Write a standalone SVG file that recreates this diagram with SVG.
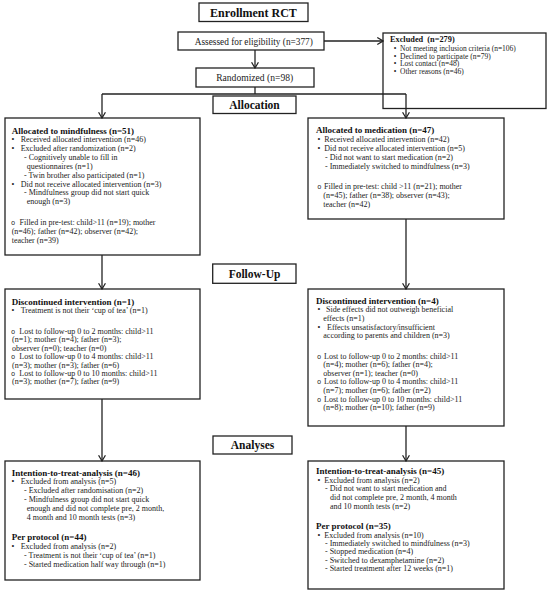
<svg xmlns="http://www.w3.org/2000/svg" width="550" height="594" viewBox="0 0 550 594">
<defs>
<style>
.box{fill:#fff;stroke:#222;stroke-width:1.3}
.t{font-family:"Liberation Serif",serif;font-size:8px;fill:#222}
.s{font-size:7.5px}
.h{font-family:"Liberation Serif",serif;font-weight:bold;font-size:9px;fill:#111}
.hb{font-family:"Liberation Serif",serif;font-weight:bold;font-size:11.5px;fill:#111;text-anchor:middle}
.c{font-family:"Liberation Serif",serif;font-size:9.3px;fill:#222;text-anchor:middle}
.bu{text-anchor:middle}
.o{font-family:"Liberation Mono",monospace;font-size:7px;fill:#222;text-anchor:middle}
.ln{fill:none;stroke:#222;stroke-width:1.3}
</style>
<marker id="ar" markerUnits="userSpaceOnUse" markerWidth="8" markerHeight="8" viewBox="0 0 6 7" refX="5.5" refY="3.5" orient="auto">
<path d="M0.5,0.5 L5.5,3.5 L0.5,6.5" fill="none" stroke="#222" stroke-width="1.1"/>
</marker>
</defs>
<rect width="550" height="594" fill="#fff"/>

<g id="enrollment">
<rect class="box" x="199" y="3" width="109" height="18.5"/>
<text class="hb" x="253.5" y="17" style="font-size:12px">Enrollment RCT</text>
</g>

<g id="assessed">
<rect class="box" x="178" y="32" width="146" height="18"/>
<text class="c" x="253.8" y="44.5">Assessed for eligibility (n=377)</text>
</g>

<g id="excluded">
<rect class="box" x="383" y="33" width="163" height="75.5"/>
<text class="h" x="390" y="42.3" style="font-size:8.3px" xml:space="preserve">Excluded  (n=279)</text>
<g class="t s">
<text class="bu" x="395" y="51.2">•</text><text x="400" y="51.2">Not meeting inclusion criteria (n=106)</text>
<text class="bu" x="395" y="58.7">•</text><text x="400" y="58.7">Declined to participate (n=79)</text>
<text class="bu" x="395" y="66.2">•</text><text x="400" y="66.2">Lost contact (n=48)</text>
<text class="bu" x="395" y="73.7">•</text><text x="400" y="73.7">Other reasons (n=46)</text>
</g>
</g>

<g id="randomized">
<rect class="box" x="196" y="68" width="118" height="19"/>
<text class="c" x="254.7" y="81.3" style="font-size:9.6px">Randomized (n=98)</text>
</g>

<g id="allocation">
<rect class="box" x="213" y="96" width="83" height="17.5"/>
<text class="hb" x="254.5" y="108.5">Allocation</text>
</g>

<g id="alloc-mindfulness">
<rect class="box" x="5" y="118" width="195" height="137"/>
<text class="h" x="11.7" y="133.5">Allocated to mindfulness (n=51)</text>
<g class="t">
<text class="bu" x="13" y="142">•</text><text x="20.7" y="142">Received allocated intervention (n=46)</text>
<text class="bu" x="13" y="150.9">•</text><text x="20.7" y="150.9">Excluded after randomization (n=2)</text>
<text x="24" y="159.8">- Cognitively unable to fill in</text>
<text x="26.7" y="168.7">questionnaires (n=1)</text>
<text x="24" y="177.6">- Twin brother also participated (n=1)</text>
<text class="bu" x="13" y="186.5">•</text><text x="20.7" y="186.5">Did not receive allocated intervention (n=3)</text>
<text x="24" y="195.4">- Mindfulness group did not start quick</text>
<text x="26.7" y="204.3">enough (n=3)</text>
<text class="o" x="13" y="225">o</text><text x="19.5" y="225">Filled in pre-test: child&gt;11 (n=19); mother</text>
<text x="11.7" y="233.9">(n=46); father (n=42); observer (n=42);</text>
<text x="11.7" y="242.8">teacher (n=39)</text>
</g>
</g>

<g id="alloc-medication">
<rect class="box" x="308" y="118" width="196" height="101"/>
<text class="h" x="316" y="133">Allocated to medication (n=47)</text>
<g class="t">
<text class="bu" x="319" y="142">•</text><text x="324.3" y="142">Received allocated intervention (n=42)</text>
<text class="bu" x="319" y="151">•</text><text x="324.3" y="151">Did not receive allocated intervention (n=5)</text>
<text x="325" y="160">- Did not want to start medication (n=2)</text>
<text x="325" y="169">- Immediately switched to mindfulness (n=3)</text>
<text class="o" x="319.3" y="188.7">o</text><text x="324" y="188.7">Filled in pre-test: child &gt;11 (n=21); mother</text>
<text x="323.3" y="197.6">(n=45); father (n=38); observer (n=43);</text>
<text x="323.3" y="206.5">teacher (n=42)</text>
</g>
</g>

<g id="followup">
<rect class="box" x="212.7" y="264" width="83.3" height="19.3"/>
<text class="hb" x="254.5" y="278">Follow-Up</text>
</g>

<g id="disc-mindfulness">
<rect class="box" x="5" y="289" width="195" height="110"/>
<text class="h" x="11.7" y="304.7">Discontinued intervention (n=1)</text>
<g class="t">
<text class="bu" x="13" y="313.4">•</text><text x="20.7" y="313.4">Treatment is not their ‘cup of tea’ (n=1)</text>
<text class="o" x="13" y="333.7">o</text><text x="19.3" y="333.7">Lost to follow-up 0 to 2 months: child&gt;11</text>
<text x="12" y="342.4">(n=1); mother (n=4); father (n=3);</text>
<text x="12" y="350.6">observer (n=0); teacher (n=0)</text>
<text class="o" x="13" y="359.4">o</text><text x="19.3" y="359.4">Lost to follow-up 0 to 4 months: child&gt;11</text>
<text x="12" y="367.7">(n=3); mother (n=3); father (n=6)</text>
<text class="o" x="13" y="376">o</text><text x="19.3" y="376">Lost to follow-up 0 to 10 months: child&gt;11</text>
<text x="12" y="384.4">(n=3); mother (n=7); father (n=9)</text>
</g>
</g>

<g id="disc-medication">
<rect class="box" x="308" y="289" width="196" height="137"/>
<text class="h" x="316" y="303.7">Discontinued intervention (n=4)</text>
<g class="t">
<text class="bu" x="319" y="312">•</text><text x="326" y="312">Side effects did not outweigh beneficial</text>
<text x="323.3" y="321">effects (n=1)</text>
<text class="bu" x="319" y="329.7">•</text><text x="327" y="329.7">Effects unsatisfactory/insufficient</text>
<text x="323.3" y="338.4">according to parents and children (n=3)</text>
<text class="o" x="319" y="358.7">o</text><text x="324" y="358.7">Lost to follow-up 0 to 2 months: child&gt;11</text>
<text x="323.3" y="367.4">(n=4); mother (n=6); father (n=4);</text>
<text x="323.3" y="376">observer (n=1); teacher (n=0)</text>
<text class="o" x="319" y="384.4">o</text><text x="324" y="384.4">Lost to follow-up 0 to 4 months: child&gt;11</text>
<text x="323.3" y="393">(n=7); mother (n=6); father (n=2)</text>
<text class="o" x="319" y="402">o</text><text x="324" y="402">Lost to follow-up 0 to 10 months: child&gt;11</text>
<text x="323.3" y="410.4">(n=8); mother (n=10); father (n=9)</text>
</g>
</g>

<g id="analyses">
<rect class="box" x="213" y="436" width="79" height="18"/>
<text class="hb" x="252.5" y="449.3">Analyses</text>
</g>

<g id="itt-mindfulness">
<rect class="box" x="5" y="461" width="195" height="119"/>
<text class="h" x="11.7" y="475.7">Intention-to-treat-analysis (n=46)</text>
<g class="t">
<text class="bu" x="13" y="484.4">•</text><text x="20.7" y="484.4">Excluded from analysis (n=5)</text>
<text x="24" y="493.2">- Excluded after randomisation (n=2)</text>
<text x="24" y="502">- Mindfulness group did not start quick</text>
<text x="26.7" y="510.9">enough and did not complete pre, 2 month,</text>
<text x="26.7" y="519.7">4 month and 10 month tests (n=3)</text>
</g>
<text class="h" x="11.7" y="540.3">Per protocol (n=44)</text>
<g class="t">
<text class="bu" x="13" y="548.8">•</text><text x="20.7" y="548.8">Excluded from analysis (n=2)</text>
<text x="24" y="557.7">- Treatment is not their ‘cup of tea’ (n=1)</text>
<text x="24" y="566.6">- Started medication half way through (n=1)</text>
</g>
</g>

<g id="itt-medication">
<rect class="box" x="308" y="461" width="196" height="128"/>
<text class="h" x="316" y="474">Intention-to-treat-analysis (n=45)</text>
<g class="t">
<text class="bu" x="319" y="482.5">•</text><text x="324.3" y="482.5">Excluded from analysis (n=2)</text>
<text x="325" y="491.3">- Did not want to start medication and</text>
<text x="330" y="500">did not complete pre, 2 month, 4 month</text>
<text x="330" y="508.7">and 10 month tests (n=2)</text>
</g>
<text class="h" x="316" y="529">Per protocol (n=35)</text>
<g class="t">
<text class="bu" x="319" y="537.7">•</text><text x="324.3" y="537.7">Excluded from analysis (n=10)</text>
<text x="325" y="546.1">- Immediately switched to mindfulness (n=3)</text>
<text x="325" y="554.4">- Stopped medication (n=4)</text>
<text x="325" y="562.7">- Switched to dexamphetamine (n=2)</text>
<text x="325" y="571">- Started treatment after 12 weeks (n=1)</text>
</g>
</g>

<g id="connectors" class="ln">
<path class="ln" d="M255,50 V68" marker-end="url(#ar)"/>
<path class="ln" d="M324,41 H383" marker-end="url(#ar)"/>
<path class="ln" d="M255,87 V94"/>
<path class="ln" d="M102,94 H406"/>
<path class="ln" d="M102,94 V118" marker-end="url(#ar)"/>
<path class="ln" d="M406,94 V118" marker-end="url(#ar)"/>
<path class="ln" d="M102,255 V289" marker-end="url(#ar)"/>
<path class="ln" d="M406,219 V289" marker-end="url(#ar)"/>
<path class="ln" d="M102,399 V461" marker-end="url(#ar)"/>
<path class="ln" d="M406,426 V461" marker-end="url(#ar)"/>
</g>
</svg>
